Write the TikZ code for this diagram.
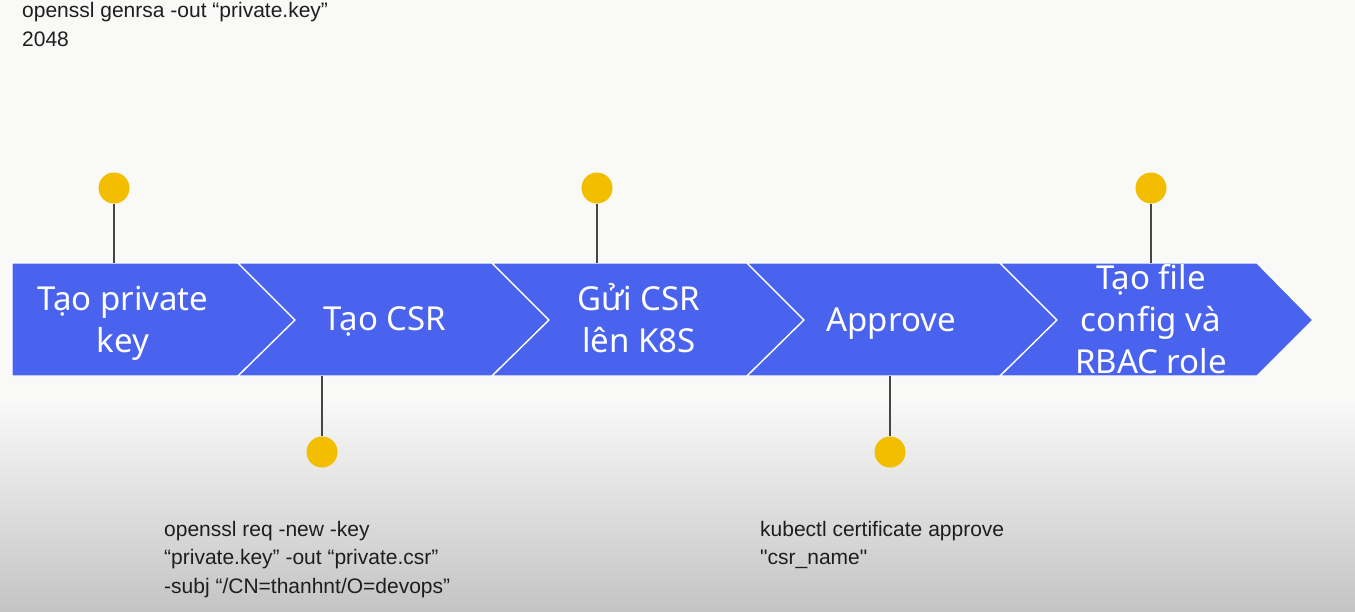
\documentclass[tikz,border=0pt]{standalone}
\usepackage{fontspec}
\setmainfont{Liberation Sans}
\newfontfamily\cmdfont{Liberation Sans}
\newfontfamily\stepfont{Noto Sans}
\definecolor{bandblue}{RGB}{74,99,238}
\definecolor{dotyellow}{RGB}{244,190,0}
\definecolor{bgtop}{RGB}{249,249,248}
\definecolor{bgbot}{RGB}{196,196,196}
\definecolor{stemgray}{RGB}{70,70,70}
\definecolor{cmdtext}{RGB}{30,30,30}
\newcommand{\steptop}{\rule{0pt}{34pt}}
\newcommand{\cmdtop}{\rule{0pt}{18pt}}
\tikzset{
  segment/.style={fill=bandblue, draw=white, line width=1.3pt, line join=miter},
  dotnode/.style={circle, fill=dotyellow, minimum size=31pt, inner sep=0pt},
  stem/.style={draw=stemgray, line width=1.4pt},
  steplabel/.style={text=white, font=\stepfont\fontsize{33}{42}\selectfont, align=center, inner sep=0pt, anchor=north},
  cmdlabel/.style={text=cmdtext, font=\cmdfont\fontsize{21}{28.5}\selectfont, align=left, anchor=north west, inner sep=0pt}
}
\begin{document}
\begin{tikzpicture}[x=1pt,y=-1pt]
\useasboundingbox (0,0) rectangle (1355,611);
% background
\fill[bgtop] (0,0) rectangle (1355,401);
\shade[top color=bgtop, bottom color=bgbot] (0,400) rectangle (1355,611);

% band segments
\path[segment] (12,263) -- (238,263) -- (295,320) -- (238,376) -- (12,376) -- cycle;
\path[segment] (238,263) -- (492,263) -- (549,320) -- (492,376) -- (238,376) -- (295,320) -- cycle;
\path[segment] (492,263) -- (747,263) -- (804,320) -- (747,376) -- (492,376) -- (549,320) -- cycle;
\path[segment] (747,263) -- (1000,263) -- (1057,320) -- (1000,376) -- (747,376) -- (804,320) -- cycle;
\path[segment] (1000,263) -- (1257,263) -- (1313,320) -- (1257,376) -- (1000,376) -- (1057,320) -- cycle;

% attachment points on the band
\coordinate (a1) at (114,263);
\coordinate (a2) at (322,376);
\coordinate (a3) at (597,263);
\coordinate (a4) at (890,376);
\coordinate (a5) at (1151,263);

% dots
\node[dotnode] (d1) at (114,188) {};
\node[dotnode] (d2) at (322,452) {};
\node[dotnode] (d3) at (597,188) {};
\node[dotnode] (d4) at (890,452) {};
\node[dotnode] (d5) at (1151,188) {};

\draw[stem] (d1.south) -- (a1);
\draw[stem] (d2.north) -- (a2);
\draw[stem] (d3.south) -- (a3);
\draw[stem] (d4.north) -- (a4);
\draw[stem] (d5.south) -- (a5);

% step labels (node top = first baseline - 34)
\node[steplabel] (l1) at (123,276) {\steptop Tạo private\\key};
\node[steplabel] (l2) at (385,296.7) {\steptop Tạo CSR};
\node[steplabel] (l3) at (639,276) {\steptop Gửi CSR\\lên K8S};
\node[steplabel] (l4) at (891,297) {\steptop Approve};
\node[steplabel] (l5) at (1151,255) {\steptop Tạo file\\config và\\RBAC role};

% command texts (node top = first baseline - 18)
\node[cmdlabel] (c1) at (22,-0.5) {\cmdtop openssl genrsa -out “private.key”\\2048};
\node[cmdlabel] (c2) at (164,518) {\cmdtop openssl req -new -key\\“private.key” -out “private.csr”\\-subj “/CN=thanhnt/O=devops”};
\node[cmdlabel] (c3) at (760,518) {\cmdtop kubectl certificate approve\\"csr\_name"};
\end{tikzpicture}
\end{document}
